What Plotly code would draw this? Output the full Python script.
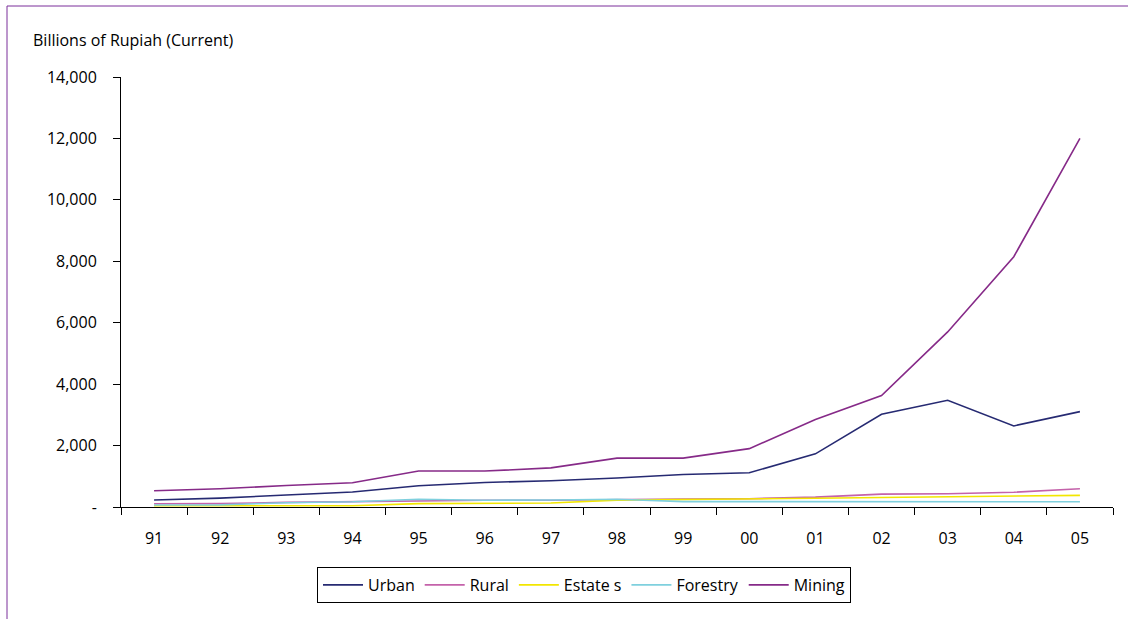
import plotly.graph_objects as go

years = ["91", "92", "93", "94", "95", "96", "97", "98", "99", "00", "01", "02", "03", "04", "05"]

urban = [227, 290, 390, 487, 692, 800, 855, 942, 1060, 1115, 1730, 3020, 3475, 2640, 3105]
rural = [108, 110, 150, 172, 215, 220, 220, 250, 260, 270, 320, 420, 430, 480, 595]
estates = [40, 40, 40, 40, 110, 120, 130, 225, 240, 250, 285, 310, 330, 340, 380]
forestry = [65, 70, 140, 170, 250, 220, 230, 250, 175, 170, 170, 170, 170, 170, 170]
mining = [530, 595, 700, 790, 1170, 1170, 1275, 1590, 1590, 1900, 2850, 3630, 5700, 8150, 12000]

y_ticks = [0, 2000, 4000, 6000, 8000, 10000, 12000, 14000]
y_tick_text = ["-", "2,000", "4,000", "6,000", "8,000", "10,000", "12,000", "14,000"]

series = [
    ("Urban", urban, "#262a72"),
    ("Rural", rural, "#c462aa"),
    ("Estate s", estates, "#f2e600"),
    ("Forestry", forestry, "#7fd0de"),
    ("Mining", mining, "#862a88"),
]

W, H = 1128, 619
L, R, T, B = 121, 15, 77, 112
pw, ph = W - L - R, H - T - B

def px(x):
    return (x - L) / pw

def py(y):
    return (H - B - y) / ph

FONT = "Open Sans"
FS = 16

fig = go.Figure()
for name, vals, color in series:
    fig.add_trace(go.Scatter(
        x=years, y=vals, name=name, mode="lines",
        line=dict(color=color, width=1.6),
    ))

fig.update_layout(
    width=W, height=H,
    margin=dict(l=L, r=R, t=T, b=B),
    paper_bgcolor="white", plot_bgcolor="white",
    font=dict(family=FONT, size=FS, color="black"),
    showlegend=True,
    legend=dict(
        orientation="h",
        x=px(584), xanchor="center",
        y=py(567), yanchor="top",
        bordercolor="black", borderwidth=1,
        font=dict(family=FONT, size=FS, color="black"),
        itemwidth=40,
        tracegroupgap=0,
    ),
    xaxis=dict(
        type="category",
        showgrid=False, zeroline=False,
        showline=True, linecolor="black", linewidth=1,
        ticks="outside", tickson="boundaries", ticklen=7, tickcolor="black",
        tickfont=dict(size=FS),
        ticklabelstandoff=17,
        range=[-0.5, len(years) - 0.5],
    ),
    yaxis=dict(
        range=[0, 14000],
        tickmode="array", tickvals=y_ticks, ticktext=y_tick_text,
        showgrid=False, zeroline=False,
        showline=True, linecolor="black", linewidth=1,
        ticks="outside", ticklen=7, tickcolor="black",
        tickfont=dict(size=FS),
        ticklabelstandoff=13,
    ),
    annotations=[dict(
        text="Billions of Rupiah (Current)",
        xref="paper", yref="paper",
        x=px(31), y=py(40), xanchor="left", yanchor="middle",
        showarrow=False, font=dict(family=FONT, size=FS, color="black"),
    )],
    shapes=[
        dict(type="line", xref="paper", yref="paper",
             x0=px(7), y0=py(6), x1=px(W), y1=py(6),
             line=dict(color="#7a2f9a", width=1)),
        dict(type="line", xref="paper", yref="paper",
             x0=px(7), y0=py(6), x1=px(7), y1=py(H),
             line=dict(color="#7a2f9a", width=1)),
    ],
)

fig.write_html("out.html")
